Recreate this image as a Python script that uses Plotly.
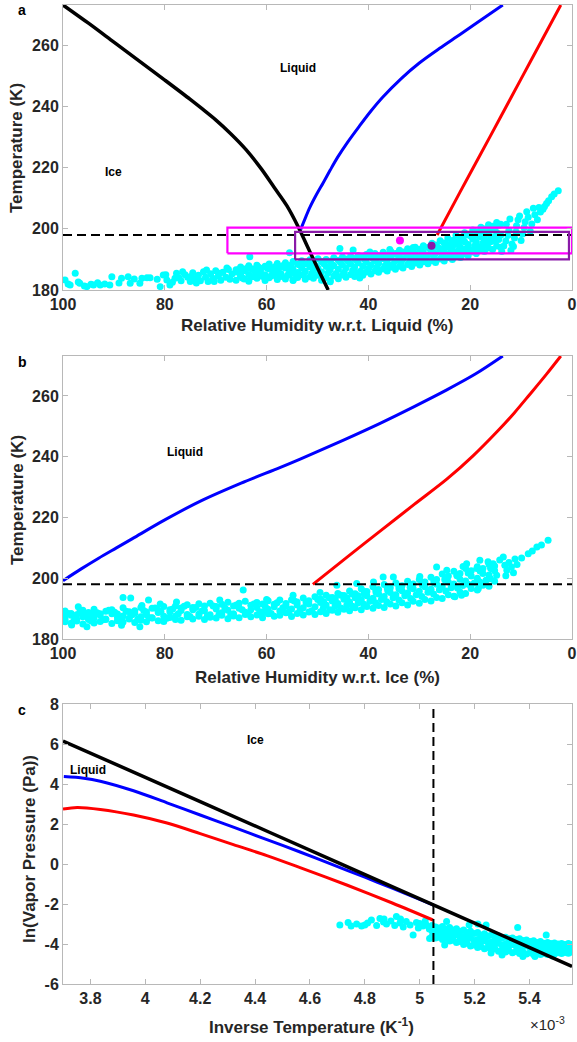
import plotly.graph_objects as go

# ================= DATA =================
# ---- Panel a: Relative humidity w.r.t. liquid (%) vs temperature (K)
a_black_rh = [100.0, 95.0, 90.0, 85.0, 80.0, 75.0, 72.5, 70.0, 67.0, 64.0, 61.0, 58.5, 56.0, 53.8, 52.0, 50.0, 47.9]
a_black_t = [273.15, 267.2, 261.0, 254.8, 248.6, 242.3, 239.0, 235.6, 231.0, 225.8, 219.5, 213.5, 207.5, 200.7, 194.3, 187.2, 180.0]
a_blue_rh = [53.3, 52.4, 51.5, 50.2, 48.9, 47.5, 46.0, 44.0, 41.8, 39.5, 37.2, 33.5, 30.0, 26.0, 22.0, 18.1, 13.6]
a_blue_t = [199.8, 203.5, 207.0, 211.2, 215.0, 219.2, 223.5, 228.5, 233.5, 238.5, 243.0, 249.2, 254.2, 259.0, 263.5, 268.0, 273.15]
a_red_rh = [26.5, 22.0, 18.0, 14.0, 10.0, 6.0, 2.2]
a_red_t = [198.0, 212.0, 224.3, 236.6, 249.0, 261.4, 273.15]
a_box_magenta = [67.7, 0.0, 192.0, 200.4]   # rh_left, rh_right, t_bottom, t_top
a_box_purple = [54.4, 0.6, 190.0, 199.0]
a_dot_magenta = [33.8, 196.2]
a_dot_purple = [27.6, 194.5]
t_threshold = 198.0

a_scatter_sparse = [
    (99.6, 183.3), (99.0, 182.0), (98.6, 181.6), (97.6, 185.5), (97.0, 182.6), (96.7, 182.2), (95.8, 181.3),
    (95.3, 181.1), (94.5, 181.9), (94.0, 181.6), (93.2, 182.4), (92.7, 181.6), (91.8, 182.0), (90.8, 181.6),
    (90.4, 184.3), (89.0, 182.3), (88.5, 183.8), (87.2, 184.3), (86.8, 182.2), (86.0, 183.6), (84.9, 182.2),
    (84.5, 183.8), (83.5, 184.0), (82.9, 184.0), (81.5, 183.5), (80.9, 181.1), (80.3, 184.9), (79.6, 183.3),
    (79.0, 181.6), (78.5, 182.5), (77.7, 185.5), (77.2, 184.0), (76.8, 183.0), (76.0, 185.0), (75.5, 184.2),
    (75.0, 182.8), (74.5, 185.6), (74.0, 183.6), (73.4, 184.8), (73.0, 183.0), (72.4, 186.0), (72.0, 184.2),
    (71.5, 182.8), (71.0, 185.3), (70.6, 183.8), (70.0, 186.3), (69.5, 184.6), (69.0, 183.2), (68.6, 185.8),
    (68.0, 184.2), (67.5, 186.7), (67.2, 183.5), (66.8, 185.2), (79.8, 185.0), (78.0, 183.8), (76.5, 186.0),
    (74.8, 184.5), (73.8, 182.3), (71.8, 186.5), (70.3, 182.8), (69.2, 185.5), (67.8, 187.2),
]
# (rh, three temperatures) of the dense band
a_scatter_band = [
    (66.0, 183.2, 185.9, 186.6), (65.1, 184.5, 184.8, 187.5), (64.4, 183.6, 186.4, 186.3), (63.5, 182.9, 185.1, 187.9),
    (62.8, 184.3, 186.8, 186.9), (61.9, 183.8, 185.3, 188.1), (61.2, 184.7, 186.2, 187.0), (60.3, 183.1, 185.0, 187.8),
    (59.5, 184.0, 186.9, 188.5), (58.8, 184.8, 185.6, 187.2), (57.9, 183.4, 186.5, 188.7), (57.2, 184.4, 185.4, 187.6),
    (56.3, 183.6, 187.2, 188.9), (55.5, 184.9, 186.0, 188.0), (54.8, 183.3, 186.7, 189.3), (53.9, 184.1, 185.7, 188.4),
    (53.1, 185.0, 187.3, 189.6), (52.4, 183.5, 186.1, 188.6), (51.5, 184.3, 187.6, 189.9), (50.8, 183.8, 186.4, 188.7),
    (49.9, 184.8, 187.1, 190.2), (49.2, 183.2, 185.9, 189.2), (48.3, 184.1, 187.7, 190.0), (47.5, 183.0, 186.6, 189.4),
    (46.8, 184.6, 187.9, 190.5), (45.9, 183.7, 186.8, 189.7), (45.1, 184.9, 188.2, 190.8), (44.4, 184.2, 187.2, 190.1),
    (43.5, 185.1, 188.5, 191.0), (42.7, 184.4, 187.5, 190.3), (42.0, 185.6, 188.9, 191.3), (41.1, 184.8, 187.8, 190.7),
    (40.4, 185.9, 189.1, 191.6), (39.5, 185.2, 188.2, 190.9), (38.7, 186.3, 189.6, 191.9), (38.0, 185.8, 188.7, 191.2),
    (37.1, 186.9, 190.2, 192.3), (36.3, 186.2, 189.1, 191.5), (35.6, 187.4, 190.6, 192.6), (34.7, 186.8, 189.6, 191.9),
    (33.9, 187.8, 191.0, 193.0), (33.2, 187.2, 190.1, 192.4), (32.3, 188.3, 191.4, 193.5), (31.5, 187.7, 190.5, 192.9),
    (30.8, 188.8, 191.8, 194.0), (29.9, 188.2, 190.9, 193.3), (29.2, 189.2, 192.2, 194.5), (28.3, 188.6, 191.4, 193.9),
    (27.5, 189.6, 192.7, 195.3), (26.8, 189.0, 191.9, 194.7), (25.9, 190.1, 193.3, 196.1), (25.1, 189.5, 192.5, 195.4),
    (24.4, 190.6, 194.1, 197.0), (23.5, 190.0, 193.2, 196.2), (22.8, 191.1, 194.9, 197.8), (21.9, 190.6, 194.0, 197.1),
    (21.1, 191.8, 195.8, 198.7), (20.4, 191.2, 194.9, 198.0), (19.5, 192.4, 196.6, 199.6), (18.8, 191.9, 195.8, 199.0),
    (17.9, 193.1, 197.4, 200.5), (17.2, 192.6, 196.6, 199.9), (16.4, 193.7, 198.1, 201.3), (15.6, 193.2, 197.3, 200.8),
    (14.8, 194.4, 198.8, 202.1), (14.0, 194.0, 197.9, 201.5),
]
a_scatter_fill = [
    (65.55, 186.6), (64.75, 183.9), (63.95, 187.0), (63.15, 184.3), (62.35, 186.2), (61.55, 187.4), (60.75, 184.4),
    (59.9, 187.2), (59.15, 184.6), (58.35, 187.6), (57.55, 185.0), (56.75, 188.0), (55.9, 184.8), (55.15, 187.7),
    (54.35, 185.2), (53.5, 188.2), (52.75, 184.9), (51.95, 188.5), (51.15, 185.4), (50.35, 187.9), (49.55, 185.1),
    (48.75, 188.6), (47.9, 185.6), (47.15, 188.3), (46.35, 185.4), (45.5, 189.0), (44.75, 185.8), (43.95, 189.3),
    (43.1, 186.4), (42.35, 189.7), (41.55, 186.1), (40.75, 190.0), (39.95, 187.0), (39.1, 190.3), (38.35, 187.4),
    (37.55, 191.0), (36.7, 188.0), (35.95, 191.2), (35.15, 188.4), (34.3, 191.6), (33.55, 189.1), (32.75, 192.2),
    (31.9, 189.4), (31.15, 192.5), (30.35, 189.9), (29.55, 192.9), (28.75, 190.3), (27.9, 193.5), (27.15, 190.8),
    (26.35, 194.0), (25.5, 191.4), (24.75, 195.2), (23.95, 192.2), (23.15, 195.9), (22.35, 192.8), (21.5, 196.9),
    (20.75, 193.6), (19.95, 197.8), (19.15, 194.4), (18.35, 198.7), (17.55, 195.3), (16.8, 199.9), (16.0, 196.5),
    (15.2, 200.4), (14.4, 197.6),
]
a_scatter_extra = [
    (25.5, 190.8), (24.0, 191.4), (22.5, 192.0), (21.5, 192.6), (20.0, 193.0), (19.0, 193.4), (18.2, 194.0),
    (17.5, 194.5), (16.8, 195.2), (16.0, 195.8), (15.2, 196.0), (14.4, 196.5), (25.0, 194.3), (23.8, 195.0),
    (22.2, 195.6), (21.4, 196.5), (19.8, 197.6), (18.5, 197.8), (17.6, 198.8), (16.8, 199.6), (15.9, 199.9),
    (15.0, 200.8), (14.3, 201.2), (63.3, 190.9), (55.5, 192.2), (45.6, 193.6), (43.0, 193.1), (39.7, 192.4),
    (35.8, 193.2), (31.2, 193.9), (47.5, 182.7), (54.8, 183.1), (41.7, 183.9),
    (13.4, 194.4), (13.0, 196.0), (12.6, 197.8), (12.4, 199.5), (12.9, 201.5), (12.2, 203.2), (11.8, 195.0),
    (11.5, 194.2), (11.3, 197.0), (11.0, 199.0), (10.9, 201.0), (10.6, 203.0), (10.3, 204.2), (10.0, 196.2),
    (9.7, 198.3), (9.4, 200.4), (9.2, 202.3), (8.9, 205.6), (8.6, 203.8), (8.2, 199.2), (7.9, 201.6),
    (7.6, 206.7), (7.3, 204.6), (6.8, 203.0), (6.5, 207.0), (6.2, 205.5), (5.7, 206.4), (5.4, 207.3),
    (5.0, 208.3), (4.6, 209.2), (4.0, 210.5), (3.5, 211.4), (2.7, 212.4), (12.0, 192.9), (13.8, 192.6),
]

# ---- Panel b: Relative humidity w.r.t. ice (%) vs temperature (K)
b_blue_rh = [100.0, 96.5, 93.0, 89.5, 86.2, 80.0, 73.1, 65.0, 57.4, 53.4, 45.0, 37.7, 31.0, 24.6, 19.0, 13.6]
b_blue_t = [199.2, 203.0, 206.6, 210.0, 213.2, 219.2, 225.3, 231.3, 236.4, 239.2, 245.4, 251.0, 256.5, 262.0, 267.2, 273.15]
b_red_rh = [50.9, 44.0, 37.7, 31.0, 24.6, 19.5, 14.7, 11.3, 8.3, 5.0, 2.2]
b_red_t = [198.0, 207.2, 215.5, 224.3, 232.6, 240.2, 248.3, 254.5, 260.5, 267.2, 273.15]
b_scatter_band = [
    (99.6, 186.1, 186.9, 189.2), (98.4, 185.2, 187.8, 188.4), (97.3, 185.9, 186.5, 188.0), (96.1, 184.9, 187.3, 189.5),
    (95.0, 186.4, 188.2, 188.7), (93.9, 185.3, 186.9, 189.8), (92.7, 185.8, 187.9, 188.3), (91.6, 186.6, 186.4, 189.1),
    (90.4, 185.1, 188.3, 189.6), (89.3, 186.0, 187.1, 188.2), (88.2, 185.6, 187.6, 190.3), (87.0, 186.8, 186.6, 189.0),
    (85.9, 185.4, 188.5, 189.3), (84.7, 186.2, 187.3, 190.4), (83.6, 185.7, 188.0, 188.9), (82.5, 186.9, 187.0, 190.1),
    (81.3, 186.0, 188.7, 189.5), (80.2, 185.8, 187.5, 190.7), (79.0, 187.1, 188.9, 189.6), (77.9, 186.4, 187.6, 190.9),
    (76.8, 186.2, 189.4, 190.2), (75.6, 187.3, 188.1, 191.3), (74.5, 186.6, 189.6, 190.4), (73.3, 187.5, 188.2, 191.6),
    (72.2, 186.4, 189.3, 190.9), (71.1, 187.2, 188.0, 191.8), (69.9, 186.9, 189.9, 190.7), (68.8, 187.8, 188.6, 191.4),
    (67.6, 186.7, 189.5, 192.1), (66.5, 187.6, 188.3, 190.9), (65.4, 187.0, 190.1, 191.8), (64.2, 188.1, 188.8, 192.4),
    (63.1, 187.3, 189.6, 191.1), (61.9, 187.9, 190.4, 192.0), (60.8, 187.0, 188.9, 191.5), (59.7, 188.3, 189.8, 192.6),
    (58.5, 187.5, 190.6, 191.4), (57.4, 187.8, 189.2, 192.8), (56.2, 188.6, 190.9, 191.7), (55.1, 187.4, 189.9, 192.9),
    (54.0, 188.4, 191.2, 192.2), (52.8, 187.9, 190.3, 193.5), (51.7, 188.9, 191.5, 192.6), (50.5, 188.1, 190.6, 193.9),
    (49.4, 189.0, 192.0, 193.2), (48.3, 188.4, 191.2, 194.4), (47.1, 189.5, 192.5, 193.7), (46.0, 188.8, 191.7, 195.0),
    (44.8, 189.8, 193.1, 194.3), (43.7, 189.3, 192.2, 195.8), (42.6, 190.3, 193.6, 194.9), (41.4, 189.6, 192.9, 196.5),
    (40.3, 190.7, 194.2, 195.6), (39.1, 190.1, 193.4, 197.2), (38.0, 191.0, 194.8, 196.3), (36.9, 190.4, 194.0, 197.9),
    (35.7, 191.5, 195.3, 196.9), (34.6, 190.9, 194.6, 198.4), (33.4, 191.9, 195.9, 197.5), (32.3, 191.2, 195.1, 199.0),
    (31.2, 192.4, 196.5, 198.1), (30.0, 191.8, 195.7, 199.6), (28.9, 193.0, 197.2, 198.8), (27.7, 192.5, 196.4, 200.3),
    (26.6, 193.7, 198.0, 199.6), (25.5, 193.3, 197.3, 201.4), (24.3, 194.6, 198.8, 200.7), (23.2, 194.1, 198.1, 202.3),
    (22.0, 195.5, 199.7, 201.6), (20.9, 195.0, 199.1, 203.2), (19.8, 196.6, 200.7, 202.5), (18.6, 196.1, 200.0, 203.8),
    (17.5, 197.7, 201.6, 203.2), (16.3, 197.4, 201.1, 204.5), (15.2, 199.0, 202.5, 204.0),
]
b_scatter_fill = [
    (99.0, 188.4), (97.85, 186.0), (96.7, 188.9), (95.55, 187.9), (94.45, 185.9), (93.3, 188.6), (92.15, 186.3),
    (91.0, 189.5), (89.85, 188.8), (88.75, 186.2), (87.6, 189.1), (86.45, 188.0), (85.3, 186.6), (84.15, 189.4),
    (83.05, 187.0), (81.9, 190.2), (80.75, 189.0), (79.6, 186.8), (78.45, 189.9), (77.35, 188.3), (76.2, 190.8),
    (75.05, 187.4), (73.9, 190.4), (72.75, 189.2), (71.65, 187.6), (70.5, 190.9), (69.35, 188.1), (68.2, 190.2),
    (67.05, 188.0), (65.95, 191.2), (64.8, 189.6), (63.65, 188.2), (62.5, 191.5), (61.35, 189.0), (60.25, 190.6),
    (59.1, 188.4), (57.95, 191.9), (56.8, 190.3), (55.65, 188.8), (54.55, 192.5), (53.4, 189.6), (52.25, 192.0),
    (51.1, 189.3), (49.95, 193.0), (48.85, 190.2), (47.7, 193.6), (46.55, 190.8), (45.4, 194.4), (44.25, 191.2),
    (43.15, 194.8), (42.0, 191.9), (40.85, 195.6), (39.7, 192.4), (38.55, 196.1), (37.45, 193.0), (36.3, 196.8),
    (35.15, 193.6), (34.0, 197.4), (32.85, 194.2), (31.75, 198.0), (30.6, 194.6), (29.45, 198.6), (28.3, 195.4),
    (27.15, 199.2), (26.05, 196.2), (24.9, 200.1), (23.75, 196.9), (22.6, 201.0), (21.45, 197.6), (20.35, 201.8),
    (19.2, 198.4), (18.05, 202.4), (16.9, 199.3), (15.75, 203.1),
]
b_scatter_extra = [
    (48.8, 192.3), (46.5, 193.2), (44.2, 193.6), (42.0, 194.2), (40.8, 194.8), (38.5, 195.4), (36.2, 195.9),
    (34.0, 196.5), (31.8, 197.0), (29.4, 197.8), (27.1, 198.5), (25.0, 199.5), (22.6, 200.8), (20.4, 201.7),
    (18.0, 202.5), (16.0, 203.3), (47.6, 189.6), (45.4, 190.2), (43.1, 190.8), (40.9, 191.4), (38.6, 191.9),
    (36.4, 192.3), (34.0, 192.8), (31.7, 193.3), (29.5, 194.0), (27.2, 194.8), (24.8, 195.8), (22.5, 196.8),
    (20.3, 197.9), (18.1, 198.8), (16.0, 199.8), (97.0, 190.6), (88.2, 193.7), (86.7, 193.5), (83.2, 192.8),
    (84.5, 191.0), (80.9, 191.5), (77.7, 192.2), (69.2, 192.8), (64.6, 196.1), (60.0, 193.0), (54.8, 194.4),
    (49.5, 195.3), (46.2, 197.7), (42.3, 198.3), (39.0, 198.8), (37.1, 200.4), (35.1, 200.4), (29.9, 200.6),
    (26.6, 203.7), (24.6, 202.6), (21.4, 203.9), (18.7, 203.2), (15.5, 204.8), (13.2, 204.3), (14.8, 201.0),
    (18.4, 196.6), (21.7, 194.4), (23.0, 193.9), (99.6, 185.7), (98.3, 184.6), (95.3, 184.0), (88.5, 184.5),
    (84.9, 184.0), (94.4, 188.4), (100.0, 188.4), (13.5, 207.0), (12.4, 205.2), (11.2, 206.3), (9.9, 206.7),
    (8.6, 208.1), (7.8, 209.0), (6.9, 210.3), (6.0, 210.9), (4.7, 212.5), (12.8, 202.6), (11.9, 203.7),
    (10.8, 204.5), (18.1, 205.9), (20.7, 204.8), (16.5, 205.4), (14.2, 206.0), (13.0, 200.8), (11.5, 201.8),
]

# ---- Panel c: inverse temperature (1e-3 / K) vs ln(vapor pressure (Pa))
c_black_x = [3.70, 4.20, 4.70, 5.20, 5.555]
c_black_y = [6.15, 3.12, 0.08, -2.96, -5.12]
c_blue_x = [3.703, 3.776, 3.836, 3.957, 4.079, 4.200, 4.321, 4.443, 4.564, 4.680, 4.800, 4.900, 5.000, 5.050]
c_blue_y = [4.37, 4.29, 4.14, 3.66, 3.06, 2.45, 1.84, 1.22, 0.60, -0.02, -0.66, -1.21, -1.77, -2.06]
c_red_x = [3.700, 3.752, 3.836, 3.957, 4.079, 4.200, 4.321, 4.443, 4.564, 4.734, 4.900, 5.048]
c_red_y = [2.75, 2.83, 2.73, 2.45, 2.05, 1.52, 0.97, 0.42, -0.18, -1.05, -1.95, -2.80]
c_inv_threshold = 5.05
c_scatter_band = [
    (5.045, -3.62, -3.35, -3.08), (5.058, -3.70, -3.44, -3.15), (5.071, -3.66, -3.39, -3.20), (5.083, -3.78, -3.47, -3.12),
    (5.096, -3.72, -3.52, -3.25), (5.109, -3.85, -3.48, -3.18), (5.121, -3.80, -3.58, -3.30), (5.134, -3.93, -3.55, -3.24),
    (5.147, -3.88, -3.66, -3.36), (5.160, -4.02, -3.62, -3.30), (5.172, -3.96, -3.74, -3.42), (5.185, -4.10, -3.70, -3.36),
    (5.198, -4.05, -3.82, -3.48), (5.211, -4.18, -3.78, -3.42), (5.223, -4.12, -3.88, -3.55), (5.236, -4.24, -3.84, -3.49),
    (5.249, -4.18, -3.93, -3.60), (5.262, -4.30, -3.90, -3.55), (5.274, -4.24, -3.99, -3.65), (5.287, -4.36, -3.96, -3.60),
    (5.300, -4.29, -4.04, -3.70), (5.313, -4.40, -4.00, -3.66), (5.325, -4.33, -4.08, -3.74), (5.338, -4.44, -4.03, -3.70),
    (5.351, -4.37, -4.10, -3.78), (5.364, -4.47, -4.06, -3.74), (5.376, -4.40, -4.14, -3.83), (5.389, -4.50, -4.10, -3.80),
    (5.402, -4.44, -4.18, -3.88), (5.415, -4.52, -4.14, -3.84), (5.427, -4.46, -4.21, -3.93), (5.440, -4.53, -4.17, -3.88),
    (5.453, -4.47, -4.23, -3.96), (5.466, -4.52, -4.19, -3.92), (5.478, -4.45, -4.24, -3.98), (5.491, -4.50, -4.20, -3.95),
    (5.504, -4.44, -4.25, -4.00), (5.517, -4.48, -4.21, -3.97), (5.529, -4.42, -4.24, -4.02), (5.542, -4.46, -4.20, -3.98),
    (5.553, -4.40, -4.22, -4.03),
]
c_scatter_extra = [
    (5.052, -3.50), (5.077, -3.30), (5.102, -3.65), (5.128, -3.40), (5.153, -3.80), (5.178, -3.55), (5.204, -3.95),
    (5.229, -3.68), (5.255, -4.08), (5.281, -3.78), (5.306, -4.20), (5.332, -3.88), (5.357, -4.25), (5.383, -3.95),
    (5.408, -4.32), (5.434, -4.03), (5.459, -4.36), (5.485, -4.08), (5.510, -4.35), (5.536, -4.10),
    (5.098, -2.88), (5.085, -3.30), (5.091, -4.05), (5.120, -3.80), (5.180, -3.05), (5.212, -3.00), (5.242, -3.05),
    (5.357, -3.17), (5.376, -4.63), (5.461, -3.55), (5.485, -4.60), (5.557, -4.13), (5.036, -3.72), (5.300, -4.55),
    (5.260, -4.45), (5.420, -4.62),
    (4.709, -3.05), (4.739, -2.93), (4.770, -3.00), (4.788, -3.10), (4.810, -2.95), (4.824, -2.80), (4.843, -3.07),
    (4.855, -2.72), (4.868, -2.90), (4.879, -3.00), (4.895, -2.85), (4.909, -3.07), (4.915, -2.63), (4.928, -2.95),
    (4.940, -3.15), (4.951, -2.88), (4.965, -3.05), (4.976, -3.55), (4.988, -2.92), (5.000, -2.97), (5.012, -3.10),
    (5.024, -3.05), (5.035, -3.25), (5.048, -3.30), (4.930, -2.75), (4.870, -2.75), (4.800, -3.05), (4.750, -3.10),
    (4.995, -3.20), (5.020, -2.85),
]
c_xticks = [3.8, 4.0, 4.2, 4.4, 4.6, 4.8, 5.0, 5.2, 5.4]
c_xticklabels = ["3.8", "4", "4.2", "4.4", "4.6", "4.8", "5", "5.2", "5.4"]
c_yticks = [-6, -4, -2, 0, 2, 4, 6, 8]
c_yticklabels = ["-6", "-4", "-2", "0", "2", "4", "6", "8"]
rh_ticks = [100, 80, 60, 40, 20, 0]
t_ticks = [180, 200, 220, 240, 260]


# ================= HELPERS =================
def unzip(pairs):
    return [p[0] for p in pairs], [p[1] for p in pairs]


def flatten_band(rows):
    xs, ys = [], []
    for r in rows:
        for v in r[1:]:
            xs.append(r[0])
            ys.append(v)
    return xs, ys


CYAN = "#00FFFF"
FONT = "Liberation Sans, Arial, Helvetica, sans-serif"
TXT = "#262626"
AXC = "#b8b8b8"

fig = go.Figure()


def add_scatter(xs, ys, xa, ya):
    fig.add_trace(go.Scatter(x=xs, y=ys, mode="markers", xaxis=xa, yaxis=ya,
                             marker=dict(color=CYAN, size=7, line=dict(width=0)),
                             hoverinfo="skip", showlegend=False))


def add_line(xs, ys, xa, ya, color, width=3.0, dash=None, spline=True):
    fig.add_trace(go.Scatter(x=xs, y=ys, mode="lines", xaxis=xa, yaxis=ya,
                             line=dict(color=color, width=width, dash=dash,
                                       shape=("spline" if spline else "linear"), smoothing=0.9),
                             hoverinfo="skip", showlegend=False))


# ---------- Panel a ----------
for xs, ys in (unzip(a_scatter_sparse), flatten_band(a_scatter_band), unzip(a_scatter_fill),
               unzip(a_scatter_extra)):
    add_scatter(xs, ys, "x", "y")
add_line(a_black_rh, a_black_t, "x", "y", "black", 3.5)
add_line(a_blue_rh, a_blue_t, "x", "y", "#0000FF", 3.0)
add_line(a_red_rh, a_red_t, "x", "y", "#FF0000", 3.0)
add_line([100, 0], [t_threshold, t_threshold], "x", "y", "black", 2, "9px,5px", False)
for box, col in ((a_box_magenta, "#FF00FF"), (a_box_purple, "#8A1AA8")):
    fig.add_trace(go.Scatter(x=[box[0], box[1], box[1], box[0], box[0]],
                             y=[box[2], box[2], box[3], box[3], box[2]],
                             mode="lines", xaxis="x", yaxis="y",
                             line=dict(color=col, width=2.2), hoverinfo="skip", showlegend=False))
fig.add_trace(go.Scatter(x=[a_dot_magenta[0]], y=[a_dot_magenta[1]], mode="markers", xaxis="x", yaxis="y",
                         marker=dict(color="#FF00FF", size=8), showlegend=False, hoverinfo="skip"))
fig.add_trace(go.Scatter(x=[a_dot_purple[0]], y=[a_dot_purple[1]], mode="markers", xaxis="x", yaxis="y",
                         marker=dict(color="#8A1AA8", size=8), showlegend=False, hoverinfo="skip"))

# ---------- Panel b ----------
for xs, ys in (flatten_band(b_scatter_band), unzip(b_scatter_fill), unzip(b_scatter_extra)):
    add_scatter(xs, ys, "x2", "y2")
add_line(b_blue_rh, b_blue_t, "x2", "y2", "#0000FF", 3.0)
add_line(b_red_rh, b_red_t, "x2", "y2", "#FF0000", 3.0)
add_line([100, 0], [t_threshold, t_threshold], "x2", "y2", "black", 2, "9px,5px", False)

# ---------- Panel c ----------
for xs, ys in (flatten_band(c_scatter_band), unzip(c_scatter_extra)):
    add_scatter(xs, ys, "x3", "y3")
add_line(c_red_x, c_red_y, "x3", "y3", "#FF0000", 3.0)
add_line(c_blue_x, c_blue_y, "x3", "y3", "#0000FF", 3.0)
add_line(c_black_x, c_black_y, "x3", "y3", "black", 3.5)
add_line([c_inv_threshold, c_inv_threshold], [-6, 8], "x3", "y3", "black", 2, "9px,5px", False)

# ================= LAYOUT =================
W, H = 577, 1042
L, R = 63, 5


def ydom(top_px, bot_px):
    return [1 - bot_px / H, 1 - top_px / H]


def px_x(px):
    return (px - L) / (W - L - R)


def px_y(py):
    return 1 - py / H


tickfont = dict(family=FONT, size=16, color=TXT, weight="bold")
axis_common = dict(showline=True, linecolor=AXC, linewidth=1, mirror="ticks", ticks="inside",
                   ticklen=5, tickcolor=AXC, showgrid=False, zeroline=False, tickfont=tickfont,
                   automargin=False, ticklabeloverflow="allow")

fig.update_layout(
    template="none",
    width=W, height=H, margin=dict(l=L, r=R, t=0, b=0, pad=0, autoexpand=False),
    paper_bgcolor="white", plot_bgcolor="white", showlegend=False,
    font=dict(family=FONT, color=TXT),
    xaxis=dict(domain=[0, 1], anchor="y", range=[100, 0], tickvals=rh_ticks, **axis_common),
    yaxis=dict(domain=ydom(5, 290), anchor="x", range=[180, 273.15], tickvals=t_ticks, **axis_common),
    xaxis2=dict(domain=[0, 1], anchor="y2", range=[100, 0], tickvals=rh_ticks, **axis_common),
    yaxis2=dict(domain=ydom(356, 639), anchor="x2", range=[180, 273.15], tickvals=t_ticks, **axis_common),
    xaxis3=dict(domain=[0, 1], anchor="y3", range=[3.7, 5.555], tickvals=c_xticks, ticktext=c_xticklabels,
                **axis_common),
    yaxis3=dict(domain=ydom(704, 984), anchor="x3", range=[-6, 8], tickvals=c_yticks, ticktext=c_yticklabels,
                **axis_common),
)


def ann(text, px, py, size=16, bold=True, angle=0, xanchor="center", yanchor="middle", color=TXT):
    fig.add_annotation(text=text, x=px_x(px), y=px_y(py), xref="paper", yref="paper",
                       showarrow=False, textangle=angle, xanchor=xanchor, yanchor=yanchor,
                       font=dict(family=FONT, size=size, color=color,
                                 weight=("bold" if bold else "normal")))


# panel letters
ann("a", 22, 10, 14, color="black")
ann("b", 22, 362, 14, color="black")
ann("c", 22, 710, 14, color="black")
# axis titles
ann("Temperature (K)", 17, 148, 17, angle=-90)
ann("Temperature (K)", 17, 500, 17, angle=-90)
ann("ln(Vapor Pressure (Pa))", 29, 849, 17, angle=-90)
ann("Relative Humidity w.r.t. Liquid (%)", 317, 325, 17)
ann("Relative Humidity w.r.t. Ice (%)", 317, 677, 17)
ann("Inverse Temperature (K<sup>-1</sup>)", 311, 1026, 17)
ann("\u00d710<sup>-3</sup>", 528, 1023, 15, bold=False, xanchor="left")
# region labels
ann("Liquid", 298, 68, 12, color="black")
ann("Ice", 113, 172, 12, color="black")
ann("Liquid", 185, 452, 12, color="black")
ann("Ice", 255, 740, 12, color="black")
ann("Liquid", 88, 770, 12, color="black")

fig.write_html("out.html", config={"displayModeBar": False},
               post_script="document.body.style.margin='0';document.body.style.padding='0';"
                           "document.body.style.overflow='hidden';")
